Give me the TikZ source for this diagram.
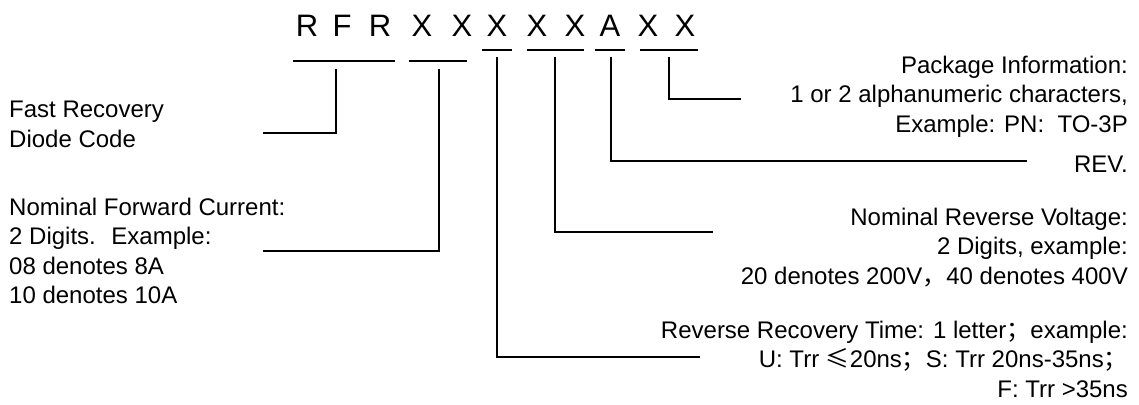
\documentclass[tikz,border=0pt]{standalone}
\usepackage{fontspec}
\setmainfont{Liberation Sans}
\newfontfamily\cjk{Noto Sans CJK SC}
\newcommand{\fwc}{{\cjk ，}}
\newcommand{\fws}{{\cjk ；}}
\newcommand{\leqs}{{\cjk ≤}}
\tikzset{
  lbl/.style={font=\fontsize{24}{29.5}\selectfont, inner sep=0pt},
  code/.style={font=\fontsize{31}{36}\selectfont, inner sep=0pt, anchor=base},
  wire/.style={line width=1.2pt},
}
\begin{document}
\begin{tikzpicture}[x=1pt, y=-1pt]
\useasboundingbox (0,0) rectangle (1139,404);

% part number letters
\foreach \x/\ch [count=\i] in {307/R,342/F,380/R,422/X,462/X,497/X,537/X,575/X,610/A,648/X,685/X}
  \node[code] (c\i) at (\x,37) {\ch};

% underlines of the fields
\draw[wire] (293,61) -- (395,61);
\draw[wire] (409,61) -- (467,61);
\draw[wire] (482,50) -- (512,50);
\draw[wire] (527,50) -- (584,50);
\draw[wire] (595,50) -- (625,50);
\draw[wire] (640,50) -- (698,50);

% descriptions
\node[lbl, align=left, anchor=north west] (frd) at (9,100.8) {Fast Recovery\\Diode Code};
\node[lbl, align=left, anchor=north west] (nfc) at (9,197.7) {Nominal Forward Current:\\2 Digits.~ Example:\\08 denotes 8A\\10 denotes 10A};
\node[lbl, align=right, anchor=north east] (pkg) at (1128,55.6) {Package Information:\\1 or 2 alphanumeric characters,\\Example: PN:~ TO-3P};
\node[lbl, anchor=base east] (rev) at (1128,172) {REV.};
\node[lbl, align=right, anchor=north east] (nrv) at (1128,207.6) {Nominal Reverse Voltage:\\2 Digits, example:\\20 denotes 200V\fwc 40 denotes 400V};
\node[lbl, align=right, anchor=north east] (rrt) at (1128,320.6) {Reverse Recovery Time: 1 letter\fws example:\\U: Trr \leqs 20ns\fws S: Trr 20ns-35ns\fws\\F: Trr >35ns};

% leader ends
\coordinate (t1) at (336,69);  \coordinate (e1) at (263,133);
\coordinate (t2) at (439,69);  \coordinate (e2) at (263,251);
\coordinate (t3) at (497,57);  \coordinate (e3) at (700,357);
\coordinate (t4) at (555,57);  \coordinate (e4) at (713,232);
\coordinate (t5) at (611,57);  \coordinate (e5) at (1027,161);
\coordinate (t6) at (669,57);  \coordinate (e6) at (741,99);

\draw[wire] (t1) |- (e1);
\draw[wire] (t2) |- (e2);
\draw[wire] (t3) |- (e3);
\draw[wire] (t4) |- (e4);
\draw[wire] (t5) |- (e5);
\draw[wire] (t6) |- (e6);
\end{tikzpicture}
\end{document}
